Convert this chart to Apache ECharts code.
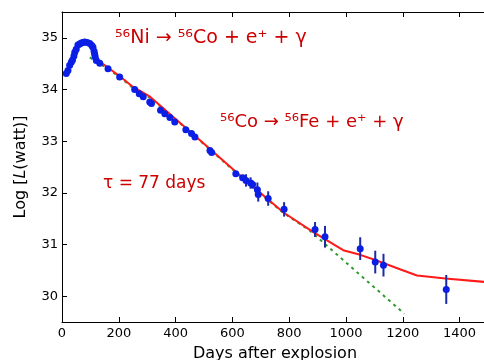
<!DOCTYPE html>
<html>
<head>
<meta charset="utf-8">
<script src="https://cdn.jsdelivr.net/npm/echarts@6/dist/echarts.min.js"></script>
<style>
  html, body { margin: 0; padding: 0; background: #fff; }
  #chart { width: 484px; height: 360px; }
</style>
</head>
<body>
<div id="chart"></div>
<script>
// observed light curve points (days, log L, error half-length)
const days = [15, 21, 27, 33, 37, 42, 45, 50, 56, 62, 68, 74, 80, 89, 98, 105, 109, 113, 115, 117, 121, 133,
  162, 203, 256, 272, 286, 309, 315, 347, 362, 380, 397, 436, 456, 468, 521, 527,
  612, 636, 648, 664, 671, 688, 691, 726, 782, 891, 926, 1050, 1103, 1132, 1353];
const logL = [34.31, 34.37, 34.47, 34.53, 34.57, 34.65, 34.72, 34.78, 34.86, 34.88, 34.90, 34.91, 34.92, 34.91, 34.89, 34.85, 34.82, 34.74, 34.68, 34.63, 34.56, 34.51,
  34.40, 34.24, 34.00, 33.92, 33.86, 33.76, 33.73, 33.60, 33.53, 33.46, 33.37, 33.22, 33.15, 33.08, 32.82, 32.78,
  32.37, 32.29, 32.24, 32.19, 32.16, 32.06, 31.97, 31.89, 31.68, 31.29, 31.15, 30.92, 30.66, 30.60, 30.13];
const errs = [0, 0, 0, 0, 0, 0, 0, 0, 0, 0, 0, 0, 0, 0, 0, 0, 0, 0, 0, 0, 0, 0,
  0, 0, 0, 0, 0, 0, 0, 0, 0, 0, 0, 0, 0, 0, 0, 0,
  0, 0.05, 0.12, 0.11, 0.08, 0.14, 0.14, 0.14, 0.14, 0.145, 0.21, 0.22, 0.22, 0.22, 0.28];

// model curve (red)
const modelDays = [15, 30, 45, 60, 80, 100, 110, 117, 130, 160, 205, 250, 310, 400, 500, 603, 700, 780, 885, 990, 1050, 1103, 1190, 1250, 1350, 1500];
const modelLogL = [34.30, 34.50, 34.72, 34.87, 34.93, 34.90, 34.84, 34.65, 34.55, 34.43, 34.25, 34.05, 33.86, 33.43, 32.95, 32.45, 31.99, 31.62, 31.24, 30.89, 30.80, 30.70, 30.52, 30.40, 30.34, 30.27];

// pure 56Co decay (green dotted), mostly hidden under the model until ~870 days
const coDays = [98, 160, 205, 250, 310, 400, 500, 603, 700, 780, 870, 1205];
const coLogL = [34.62, 34.41, 34.23, 34.03, 33.84, 33.42, 32.94, 32.44, 31.98, 31.61, 31.28, 29.66];

const xTicks = [0, 200, 400, 600, 800, 1000, 1200, 1400];
const yTicks = [30, 31, 32, 33, 34, 35];

const chart = echarts.init(document.getElementById('chart'));

const font = 'DejaVu Sans';
const red = '#cc0000';

const axisCommon = {
  axisLine: { lineStyle: { color: '#000', width: 1 } },
  axisTick: { inside: true, length: 5, lineStyle: { color: '#000' } },
  splitLine: { show: false }
};

const option = {
  animation: false,
  grid: { left: 62, right: -4, top: 12, bottom: 38, outerBoundsMode: 'none', containLabel: false },
  xAxis: [
    {
      ...axisCommon,
      type: 'value', min: 0, max: 1500, position: 'bottom',
      axisTick: { ...axisCommon.axisTick, customValues: xTicks },
      axisLabel: {
        customValues: xTicks, color: '#000', fontFamily: font, fontSize: 13, margin: 5,
        formatter: v => String(v)
      },
      name: 'Days after explosion', nameLocation: 'middle', nameGap: 24,
      nameTextStyle: { color: '#000', fontFamily: font, fontSize: 16 }
    },
    {
      ...axisCommon,
      type: 'value', min: 0, max: 1500, position: 'top',
      axisTick: { ...axisCommon.axisTick, customValues: xTicks },
      axisLabel: { show: false }
    }
  ],
  yAxis: [
    {
      ...axisCommon,
      type: 'value', min: 29.5, max: 35.5,
      axisTick: { ...axisCommon.axisTick, customValues: yTicks },
      axisLabel: { customValues: yTicks, color: '#000', fontFamily: font, fontSize: 13, margin: 4 },
      name: 'Log [{i|L}(watt)]', nameLocation: 'middle', nameGap: 33,
      nameTextStyle: {
        color: '#000', fontFamily: font, fontSize: 16,
        rich: { i: { fontStyle: 'italic', fontFamily: font, fontSize: 16, color: '#000' } }
      }
    }
  ],
  series: [
    {
      name: 'Co decay', type: 'line', symbol: 'none', z: 1,
      data: coDays.map((d, i) => [d, coLogL[i]]),
      lineStyle: { color: '#2e9a2e', width: 2, type: [3, 4] }
    },
    {
      name: 'model', type: 'line', symbol: 'none', z: 2,
      data: modelDays.map((d, i) => [d, modelLogL[i]]),
      lineStyle: { color: '#ff1a1a', width: 2 }
    },
    {
      name: 'errors', type: 'custom', z: 3,
      encode: { x: 0, y: 1 },
      data: days.map((d, i) => [d, logL[i], errs[i]]),
      renderItem: (params, api) => {
        const e = api.value(2);
        if (!e) return null;
        const p1 = api.coord([api.value(0), api.value(1) + e]);
        const p2 = api.coord([api.value(0), api.value(1) - e]);
        return {
          type: 'line',
          shape: { x1: p1[0], y1: p1[1], x2: p2[0], y2: p2[1] },
          style: { stroke: '#1a2aa8', lineWidth: 2 }
        };
      }
    },
    {
      name: 'data', type: 'scatter', z: 4,
      symbolSize: 7,
      data: days.map((d, i) => [d, logL[i]]),
      itemStyle: { color: '#0a1ee6', opacity: 1 }
    }
  ],
  graphic: [
    {
      type: 'text', left: 115, top: 29, z: 10,
      style: { text: '⁵⁶Ni → ⁵⁶Co + e⁺ + γ', fill: red, fontSize: 19, fontFamily: font }
    },
    {
      type: 'text', left: 220, top: 113, z: 10,
      style: { text: '⁵⁶Co → ⁵⁶Fe + e⁺ + γ', fill: red, fontSize: 18, fontFamily: font }
    },
    {
      type: 'text', left: 103, top: 175, z: 10,
      style: { text: 'τ = 77 days', fill: red, fontSize: 17, fontFamily: font }
    }
  ]
};

chart.setOption(option);
</script>
</body>
</html>
